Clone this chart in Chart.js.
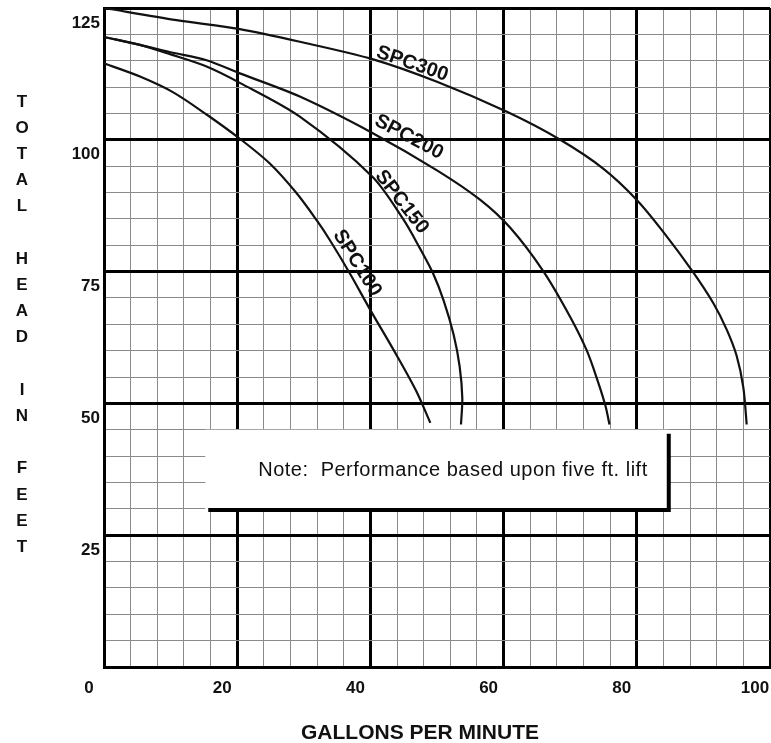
<!DOCTYPE html>
<html>
<head>
<meta charset="utf-8">
<script src="https://cdn.jsdelivr.net/npm/chart.js@4.4.1/dist/chart.umd.min.js"></script>
<style>
  html, body { margin: 0; padding: 0; background: #fff; }
  #wrap { width: 771px; height: 743px; }
</style>
</head>
<body>
<div id="wrap"><canvas id="pumpChart" width="771" height="743"></canvas></div>
<script>
// axis ranges and labelled ticks
const xMajor = [0, 20, 40, 60, 80, 100];
const yMajor = [25, 50, 75, 100, 125];

// performance curves (gpm vs total head in feet)
const spc300Gpm  = [0, 10.9, 20.4, 29.4, 40.3, 50, 60.5, 68.5, 75, 80, 84, 88.4, 91.5, 93.5, 95, 96, 96.5];
const spc300Head = [125, 122.7, 121, 118.6, 115.3, 111, 105.3, 100, 94.5, 88.6, 82.5, 75, 69, 64, 59, 53, 46];

const spc200Gpm  = [0, 5.4, 10, 15.4, 20.4, 29.4, 40.3, 50, 56.5, 61, 66, 70, 72.5, 74.2, 75.3, 75.9];
const spc200Head = [119.5, 118, 116.6, 115.1, 112.6, 108.2, 101.3, 94.2, 88.6, 83.3, 75, 66.4, 60, 54, 49.5, 46];

const spc150Gpm  = [0, 5.4, 10, 15.4, 20.4, 29.4, 40.3, 45, 47.4, 49.4, 51, 52.5, 53.4, 53.8, 53.6];
const spc150Head = [119.5, 118, 116.2, 113.9, 110.8, 104.4, 93, 84.8, 79.5, 74.7, 69.5, 63, 57, 51, 46];

const spc100Gpm  = [0, 5.4, 10.4, 15.4, 20.4, 24.9, 28.9, 31.9, 33.9, 36.9, 40, 44, 46.9, 49];
const spc100Head = [114.5, 112, 109, 104.8, 100.2, 95.5, 89.9, 84.8, 81, 74.7, 67.7, 59, 52.3, 46.3];

// curve names, anchored in data units
const curveNames = ['SPC300', 'SPC200', 'SPC150', 'SPC100'];
const nameGpm  = [46.3, 45.8, 44.7, 38.0];
const nameHead = [114.4, 100.5, 88.2, 76.6];
const nameAngle = [19, 28, 52, 58];

const noteText = 'Note:  Performance based upon five ft. lift';
const yTitle = ['T','O','T','A','L','','H','E','A','D','','I','N','','F','E','E','T'];
const xTitle = 'GALLONS PER MINUTE';

const FONT = '"Liberation Sans", Arial, Helvetica, sans-serif';

function pts(xs, ys) {
  return xs.map((v, i) => ({ x: v, y: ys[i] }));
}
function curve(label, xs, ys) {
  return {
    label: label,
    data: pts(xs, ys),
    showLine: true,
    borderColor: '#111',
    borderWidth: 2.2,
    pointRadius: 0,
    tension: 0.3,
    fill: false
  };
}

const extras = {
  id: 'extras',
  beforeDatasetsDraw(chart) {
    // note box sits on top of the grid
    const { ctx, scales: { x, y } } = chart;
    const l = x.getPixelForValue(15.2), r = x.getPixelForValue(84.8);
    const t = y.getPixelForValue(45), b = y.getPixelForValue(29.8);
    ctx.save();
    ctx.fillStyle = '#fff';
    ctx.fillRect(l, t, r - l, b - t);
    ctx.strokeStyle = '#000';
    ctx.lineWidth = 4;
    ctx.beginPath();
    ctx.moveTo(l + 3, b);
    ctx.lineTo(r, b);
    ctx.lineTo(r, t + 4);
    ctx.stroke();
    ctx.fillStyle = '#111';
    ctx.font = '20px ' + FONT;
    ctx.letterSpacing = '0.5px';
    ctx.textAlign = 'left';
    ctx.textBaseline = 'middle';
    ctx.fillText(noteText, l + 53, (t + b) / 2 + 1);
    ctx.restore();
  },
  afterDatasetsDraw(chart) {
    const { ctx, scales: { x, y } } = chart;
    ctx.save();
    ctx.fillStyle = '#111';
    ctx.font = 'bold 20px ' + FONT;
    ctx.textAlign = 'center';
    ctx.textBaseline = 'middle';
    curveNames.forEach((name, i) => {
      ctx.save();
      ctx.translate(x.getPixelForValue(nameGpm[i]), y.getPixelForValue(nameHead[i]));
      ctx.rotate(nameAngle[i] * Math.PI / 180);
      ctx.fillText(name, 0, 0);
      ctx.restore();
    });
    ctx.restore();
  },
  afterDraw(chart) {
    const { ctx, chartArea } = chart;
    ctx.save();
    ctx.fillStyle = '#111';
    ctx.font = 'bold 17px ' + FONT;
    ctx.textAlign = 'center';
    ctx.textBaseline = 'middle';
    yTitle.forEach((ch, i) => {
      if (ch) ctx.fillText(ch, 22, chartArea.top + 94 + i * 26.2);
    });
    ctx.font = 'bold 21px ' + FONT;
    ctx.fillText(xTitle, chartArea.left + 316, chartArea.bottom + 66);
    ctx.restore();
  }
};

const gridColor = major => c => (c.tick && major(c.tick.value)) ? '#000' : '#8a8a8a';
const gridWidth = major => c => (c.tick && major(c.tick.value)) ? 3 : 1;
const isXMajor = v => xMajor.includes(v);
const isYMajor = v => v % 25 === 0;

new Chart(document.getElementById('pumpChart'), {
  type: 'scatter',
  data: {
    datasets: [
      curve('SPC300', spc300Gpm, spc300Head),
      curve('SPC200', spc200Gpm, spc200Head),
      curve('SPC150', spc150Gpm, spc150Head),
      curve('SPC100', spc100Gpm, spc100Head)
    ]
  },
  options: {
    responsive: false,
    animation: false,
    layout: { padding: { top: 8, right: 1, left: 0, bottom: 0 } },
    plugins: { legend: { display: false }, tooltip: { enabled: false } },
    scales: {
      x: {
        type: 'linear',
        min: 0,
        max: 100,
        afterFit(s) { s.height = 76; s.paddingLeft = 0; s.paddingRight = 0; },
        ticks: {
          stepSize: 4,
          autoSkip: false,
          maxRotation: 0,
          labelOffset: -15,
          padding: 11,
          color: '#111',
          font: { family: FONT, size: 17, weight: 'bold' },
          callback: v => isXMajor(v) ? String(v) : ''
        },
        grid: { drawTicks: false, color: gridColor(isXMajor), lineWidth: gridWidth(isXMajor) },
        border: { color: '#000', width: 3 }
      },
      y: {
        type: 'linear',
        min: 0,
        max: 125,
        afterFit(s) { s.width = 104; s.paddingTop = 0; s.paddingBottom = 0; },
        ticks: {
          stepSize: 5,
          autoSkip: false,
          labelOffset: 15,
          padding: 4,
          color: '#111',
          font: { family: FONT, size: 17, weight: 'bold' },
          callback: v => (yMajor.includes(v)) ? String(v) : ''
        },
        grid: { drawTicks: false, color: gridColor(isYMajor), lineWidth: gridWidth(isYMajor) },
        border: { color: '#000', width: 3 }
      }
    }
  },
  plugins: [extras]
});
</script>
</body>
</html>
